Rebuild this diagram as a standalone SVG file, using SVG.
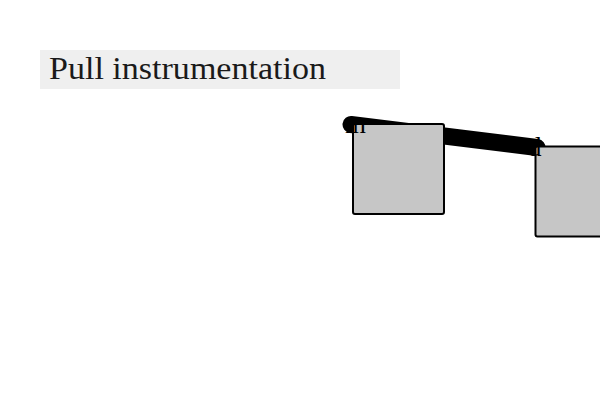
<svg xmlns="http://www.w3.org/2000/svg" width="600" height="400" viewBox="0 0 600 400">
<style>
.node{fill:#c6c6c6;stroke:#000;stroke-width:2}
.lbl{font-family:"Liberation Serif","DejaVu Serif",serif;font-size:27px;fill:#000}
.title{font-family:"Liberation Serif","DejaVu Serif",serif;font-size:31px;fill:#1a1a1a}
</style>
<rect width="600" height="400" fill="#fff"/>
<g id="title">
<rect x="40" y="50" width="360" height="39" fill="#efefef"/>
<text class="title" x="49" y="79" textLength="277" lengthAdjust="spacingAndGlyphs">Pull instrumentation</text>
</g>
<g id="connectors">
<line x1="351" y1="124.5" x2="537" y2="147.5" stroke="#000" stroke-width="17" stroke-linecap="round"/>
</g>
<g id="node-m">
<rect class="node" x="353" y="124" width="91" height="90" rx="2"/>
</g>
<g id="node-d">
<rect class="node" x="535.5" y="146.5" width="80" height="90" rx="2"/>
</g>
<g id="labels">
<text class="lbl" x="345" y="133">m</text>
<text class="lbl" x="528" y="156">d</text>
</g>
</svg>
